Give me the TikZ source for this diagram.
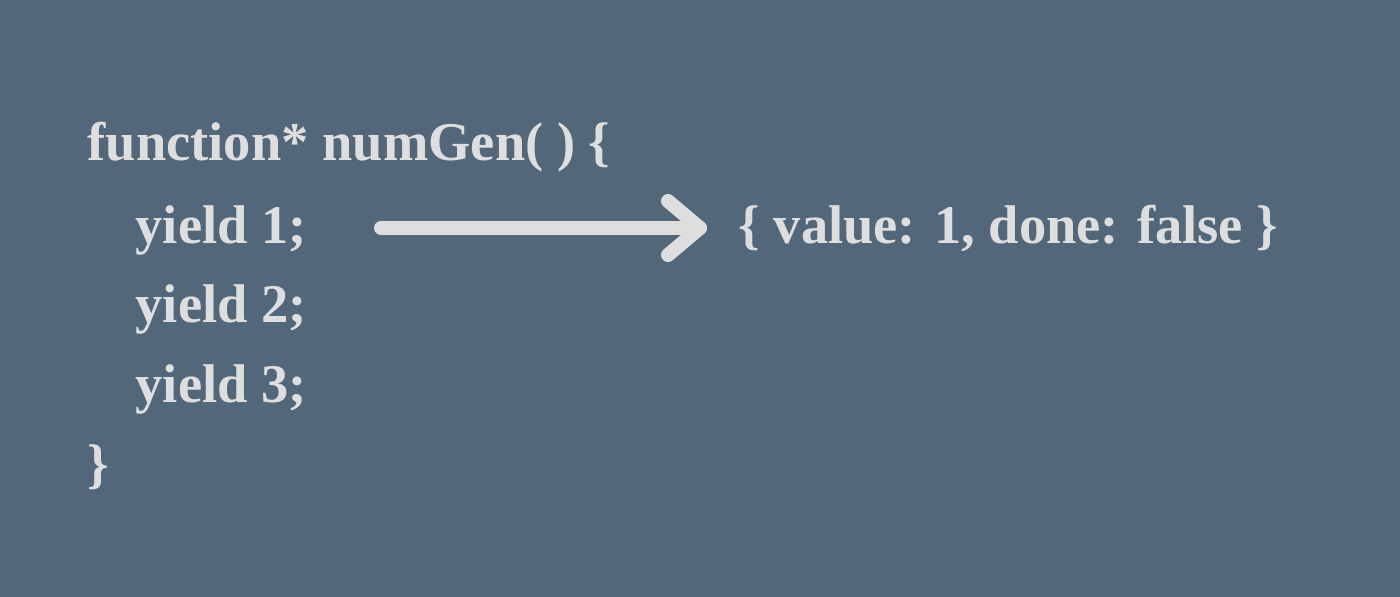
\documentclass[tikz,border=0pt]{standalone}
\usepackage{fontspec}
\setmainfont{Liberation Serif}
\usetikzlibrary{arrows.meta}
\definecolor{bg}{HTML}{52677A}
\definecolor{fg}{HTML}{DEDEDE}
\begin{document}
\begin{tikzpicture}[x=0.01cm,y=-0.01cm,
  code/.style={anchor=base west,inner sep=0pt,text=fg,font=\fontsize{15.5}{18}\selectfont\bfseries}]
\fill[bg] (0,0) rectangle (1400,597);
\useasboundingbox (0,0) rectangle (1400,597);
\node[code] (l1) at (87,160) {function* numGen( ) \{};
\node[code] (l2) at (135,243) {yield 1;};
\node[code] (l3) at (135,322) {yield 2;};
\node[code] (l4) at (135,402) {yield 3;};
\node[code] (l5) at (87,482) {\}};
\node[code] (r) at (738,243) {\{ value: 1, done: false \}};
\coordinate (a1) at (381,228);
\coordinate (a2) at (700,228);
\draw[fg,line width=0.14cm,line cap=round,line join=round] (a1) -- (a2);
\draw[fg,line width=0.14cm,line cap=round,line join=round] (668,201) -- (a2) -- (668,255);
\end{tikzpicture}
\end{document}
